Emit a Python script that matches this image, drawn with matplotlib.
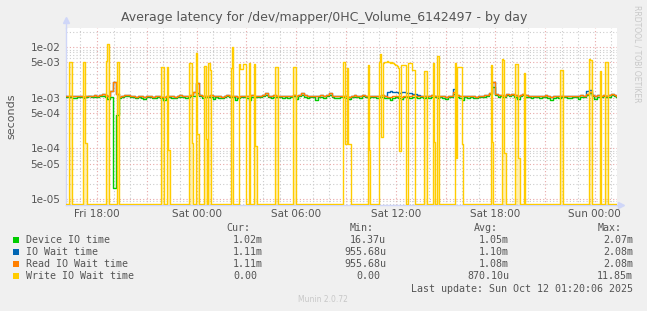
import numpy as np
import matplotlib.pyplot as plt
from matplotlib.ticker import FixedLocator, MultipleLocator, FuncFormatter

# time axis: hours counted from Fri 00:00, first sample Fri 16:08
t_start = 16 + 8 / 60
t_end = 49 + 20 / 60  # Sun 01:20

# 10-minute samples, values in ms
device_io = [
    1.02, 1.05, 1.00, 0.97, 1.04, 1.03, 0.98, 1.05, 1.07, 1.03,
    1.06, 1.04, 1.08, 1.10, 1.02, 0.95, 1.05, 0.0164, 0.45, 1.00,
    1.04, 1.08, 1.10, 1.05, 1.02, 0.98, 1.03, 1.00, 0.96, 1.02,
    1.05, 0.97, 1.01, 1.04, 0.99, 0.92, 1.02, 1.05, 1.00, 0.98,
    1.03, 1.06, 1.02, 1.00, 1.05, 1.08, 1.10, 1.25, 1.08, 1.00,
    1.04, 1.02, 1.06, 0.95, 1.04, 1.00, 0.98, 1.05, 1.07, 1.02,
    1.05, 0.90, 1.00, 1.03, 1.05, 1.01, 0.92, 1.06, 1.04, 1.02,
    1.03, 1.08, 1.15, 1.04, 1.00, 1.06, 1.03, 1.02, 0.99, 1.04,
    1.01, 1.05, 1.07, 0.93, 1.08, 1.15, 1.06, 1.01, 1.04, 1.02,
    0.92, 1.04, 1.06, 1.00, 1.07, 1.15, 1.04, 1.01, 0.99, 1.03,
    1.04, 1.01, 0.95, 1.03, 1.06, 1.04, 1.00, 1.10, 1.04, 1.01,
    1.04, 1.02, 0.98, 1.04, 1.06, 1.01, 0.97, 0.90, 1.00, 1.04,
    0.98, 0.96, 1.03, 1.04, 1.00, 1.06, 1.04, 0.99, 1.03, 1.01,
    1.04, 1.00, 1.06, 1.03, 0.98, 1.04, 1.01, 0.95, 1.03, 1.04,
    1.20, 1.05, 1.00, 0.90, 1.03, 0.99, 1.04, 1.01, 0.97, 1.03,
    1.04, 1.06, 1.10, 1.18, 1.60, 1.12, 1.06, 1.10, 1.04, 1.12,
    1.10, 1.15, 1.06, 0.96, 1.10, 1.12, 1.06, 1.04, 1.01, 1.04,
    1.03, 0.99, 1.04, 1.06, 1.00, 0.92, 1.01, 1.04, 0.99, 1.03,
    1.04, 1.01, 0.99, 1.03, 1.04, 0.94, 1.06, 1.04, 1.12, 1.22,
    1.08, 0.95, 1.06, 1.03, 1.10, 1.04, 1.06, 1.12, 1.08, 1.02,
]

io_wait = [
    1.08, 1.10, 1.07, 1.09, 1.10, 1.08, 1.06, 1.09, 1.11, 1.10,
    1.12, 1.10, 1.14, 1.20, 1.12, 1.10, 1.35, 2.08, 1.20, 1.06,
    1.10, 1.12, 1.15, 1.10, 1.08, 1.06, 1.09, 1.07, 1.05, 1.08,
    1.10, 1.04, 1.07, 1.09, 1.06, 1.05, 1.08, 1.10, 1.07, 1.06,
    1.09, 1.12, 1.08, 1.07, 1.10, 1.15, 1.30, 1.95, 1.15, 1.08,
    1.10, 1.09, 1.12, 1.08, 1.10, 1.07, 1.06, 1.10, 1.12, 1.09,
    1.11, 1.08, 1.06, 1.09, 1.10, 1.08, 1.07, 1.12, 1.10, 1.08,
    1.09, 1.15, 1.25, 1.10, 1.08, 1.12, 1.10, 1.09, 1.07, 1.10,
    1.08, 1.10, 1.12, 1.09, 1.15, 1.22, 1.12, 1.08, 1.10, 1.09,
    1.07, 1.10, 1.12, 1.08, 1.12, 1.22, 1.10, 1.08, 1.07, 1.09,
    1.10, 1.08, 1.06, 1.09, 1.12, 1.10, 1.08, 1.15, 1.10, 1.08,
    1.10, 1.09, 1.07, 1.10, 1.12, 1.08, 1.32, 1.35, 1.28, 1.30,
    1.26, 1.28, 1.30, 1.27, 1.22, 1.18, 1.20, 1.15, 1.09, 1.08,
    1.10, 1.08, 1.12, 1.09, 1.07, 1.10, 1.08, 1.06, 1.09, 1.10,
    1.50, 1.12, 1.08, 1.10, 1.09, 1.07, 1.10, 1.08, 1.06, 1.09,
    1.10, 1.12, 1.15, 1.25, 2.08, 1.20, 1.12, 1.15, 1.10, 1.18,
    1.15, 1.20, 1.12, 1.10, 1.15, 1.18, 1.12, 1.10, 1.08, 1.10,
    1.09, 1.07, 1.10, 1.12, 1.08, 1.06, 1.08, 1.10, 1.07, 1.09,
    1.10, 1.08, 1.07, 1.09, 1.10, 1.08, 1.12, 1.10, 1.35, 1.40,
    1.15, 1.10, 1.12, 1.09, 1.15, 1.10, 1.12, 1.18, 1.14, 1.11,
]

read_wait = [
    1.08, 1.10, 1.07, 1.09, 1.10, 1.08, 1.06, 1.09, 1.11, 1.10,
    1.12, 1.10, 1.14, 1.18, 1.12, 1.10, 1.35, 2.08, 1.20, 1.06,
    1.10, 1.12, 1.15, 1.10, 1.08, 1.06, 1.09, 1.07, 1.05, 1.08,
    1.10, 1.04, 1.07, 1.09, 1.06, 1.05, 1.08, 1.10, 1.07, 1.06,
    1.09, 1.12, 1.08, 1.07, 1.10, 1.15, 1.30, 1.95, 1.15, 1.08,
    1.10, 1.09, 1.12, 1.08, 1.10, 1.07, 1.06, 1.10, 1.12, 1.09,
    1.11, 1.08, 1.06, 1.09, 1.10, 1.08, 1.07, 1.12, 1.10, 1.08,
    1.09, 1.15, 1.25, 1.10, 1.08, 1.12, 1.10, 1.09, 1.07, 1.10,
    1.08, 1.10, 1.12, 1.09, 1.15, 1.22, 1.12, 1.08, 1.10, 1.09,
    1.07, 1.10, 1.12, 1.08, 1.12, 1.22, 1.10, 1.08, 1.07, 1.09,
    1.10, 1.08, 1.06, 1.09, 1.12, 1.10, 1.08, 1.15, 1.10, 1.08,
    1.10, 1.09, 1.07, 1.10, 1.12, 1.08, 1.06, 1.05, 1.08, 1.10,
    1.07, 1.06, 1.09, 1.10, 1.08, 1.12, 1.10, 1.07, 1.09, 1.08,
    1.10, 1.08, 1.12, 1.09, 1.07, 1.10, 1.08, 1.06, 1.09, 1.10,
    1.30, 1.12, 1.08, 1.10, 1.09, 1.07, 1.10, 1.08, 1.06, 1.09,
    1.10, 1.12, 1.15, 1.25, 2.08, 1.20, 1.12, 1.15, 1.10, 1.18,
    1.15, 1.20, 1.12, 1.10, 1.15, 1.18, 1.12, 1.10, 1.08, 1.10,
    1.09, 1.07, 1.10, 1.12, 1.08, 1.06, 1.08, 1.10, 1.07, 1.09,
    1.10, 1.08, 1.07, 1.09, 1.10, 1.08, 1.12, 1.10, 1.20, 1.30,
    1.15, 1.10, 1.12, 1.09, 1.15, 1.10, 1.12, 1.18, 1.14, 1.11,
]

# write wait is zero except for short bursts (start hour, 5-minute values in ms)
write_start = [16.34, 17.12, 18.53, 19.23, 21.85, 22.19, 23.52, 24.00, 24.47, 24.71,
               26.02, 26.54, 27.14, 27.49, 28.69, 29.80, 32.76, 34.33, 35.00, 37.72,
               38.22, 38.47, 39.51, 41.69, 42.39, 43.20, 43.70, 45.92, 47.65, 48.29,
               48.65]
write_vals = [
    [5.2, 5.2], [5.0, 5.0, 0.13], [5.4, 11.85], [5.0], [4.1, 4.1], [4.0, 0.095],
    [4.8, 4.8, 0.13], [7.8, 0.19], [4.3, 0.15], [4.8, 3.5],
    [3.8, 10.0], [4.6, 3.7, 3.7, 4.6, 4.6], [4.8], [4.6, 0.11], [4.0, 4.0], [4.0, 4.0],
    [5.0, 5.0, 0.12, 3.8, 0.12, 0.12], [4.5, 0.095],
    [5.0, 7.4, 0.17, 4.8, 5.2, 5.0, 5.4, 5.0, 4.8, 5.0, 4.9, 4.7, 4.5, 4.2, 3.8,
     0.09, 4.5, 4.5, 4.5, 4.5, 0.0, 4.8, 4.8, 4.8, 3.5, 3.5],
    [3.4, 3.4], [4.8, 0.135], [6.7, 6.7], [4.8, 0.066, 4.0, 4.0, 4.0, 0.12],
    [4.5, 0.135], [5.8, 5.5, 0.08], [4.6, 4.6, 0.065], [3.1], [3.6, 3.6],
    [5.8, 5.5], [3.4], [5.0, 5.0],
]

names = ['Device IO time', 'IO Wait time', 'Read IO Wait time', 'Write IO Wait time']
colors = ['#00CC00', '#0066B3', '#FF8000', '#FFCC00']
cur_vals = ['1.02m', '1.11m', '1.11m', '0.00']
min_vals = ['16.37u', '955.68u', '955.68u', '0.00']
avg_vals = ['1.05m', '1.10m', '1.08m', '870.10u']
max_vals = ['2.07m', '2.08m', '2.08m', '11.85m']

y_bottom, y_top = 7.6e-6, 2.4e-2

t10 = t_start + np.arange(len(device_io)) / 6
t5 = t_start + np.arange(400) / 12
write = np.zeros(len(t5))
short = np.zeros(len(t5), dtype=bool)
for h, vals in zip(write_start, write_vals):
    i = int(round((h - t_start) * 12))
    write[i:i + len(vals)] = vals
    if len(vals) <= 3:
        short[i:i + len(vals)] = True
write = write / 1000

W, H = 647, 311
fig = plt.figure(figsize=(W / 100, H / 100), dpi=100, facecolor='#F0F0F0')
ax = fig.add_axes([66 / W, 1 - 205 / H, 551 / W, 177 / H])
ax.set_facecolor('white')

def px(x, y):
    return x / W, 1 - y / H

# pale fill under the narrow write spikes, then the lines
shown = np.where(write > 0, write, y_bottom * 1.04)
ax.fill_between(t5, y_bottom, np.where(short, shown, y_bottom), step='post',
                color='#FFCC00', alpha=0.3, lw=0, zorder=2)
ax.plot(t10, np.array(device_io) / 1000, drawstyle='steps-post', color=colors[0], lw=1.0, zorder=3)
ax.plot(t10, np.array(io_wait) / 1000, drawstyle='steps-post', color=colors[1], lw=1.0, zorder=3)
ax.plot(t10, np.array(read_wait) / 1000, drawstyle='steps-post', color=colors[2], lw=1.0, zorder=3)
ax.plot(t5, shown, drawstyle='steps-post', color=colors[3], lw=1.0, zorder=4)

ax.set_yscale('log')
ax.set_ylim(y_bottom, y_top)
ax.set_xlim(t_start, t_end)

major_y = [1e-5, 5e-5, 1e-4, 5e-4, 1e-3, 5e-3, 1e-2]
minor_y = [s * 10.0 ** e for e in range(-6, -1) for s in (2, 3, 4, 6, 7, 8, 9)]
ax.yaxis.set_major_locator(FixedLocator(major_y))
ax.yaxis.set_minor_locator(FixedLocator(minor_y))
ax.yaxis.set_major_formatter(FuncFormatter(lambda v, p: f'{v:.0e}'))

days = ['Fri', 'Sat', 'Sun']
def xfmt(h, p):
    if round(h) % 6:
        return ''
    return f'{days[int(h // 24)]} {int(h % 24):02d}:00'
ax.xaxis.set_major_locator(MultipleLocator(3))
ax.xaxis.set_minor_locator(MultipleLocator(1))
ax.xaxis.set_major_formatter(FuncFormatter(xfmt))

ax.grid(which='major', color='#E8A8A8', ls=(0, (1, 2)), lw=0.8, zorder=1)
ax.grid(which='minor', color='#CCCCCC', ls=(0, (1, 2)), lw=0.8, zorder=1)
ax.set_axisbelow(True)
ax.tick_params(which='both', length=0, colors='#555555', labelsize=7.5)
ax.tick_params(axis='y', pad=4)
ax.tick_params(axis='x', pad=3)

for s in ['top', 'right']:
    ax.spines[s].set_visible(False)
for s in ['left', 'bottom']:
    ax.spines[s].set_color('#CFD6F8')
    ax.spines[s].set_linewidth(1.0)
ax.plot([0, 0], [1, 1.045], transform=ax.transAxes, color='#CFD6F8', lw=1, clip_on=False)
ax.plot([0], [1.045], transform=ax.transAxes, marker='^', ms=5, color='#CFD6F8', clip_on=False)
ax.plot([1, 1.008], [0, 0], transform=ax.transAxes, color='#CFD6F8', lw=1, clip_on=False)
ax.plot([1.008], [0], transform=ax.transAxes, marker='>', ms=5, color='#CFD6F8', clip_on=False)

fig.text(*px(324, 18), 'Average latency for /dev/mapper/0HC_Volume_6142497 - by day',
         ha='center', va='center', fontsize=9, color='#555555')
fig.text(*px(11, 116), 'seconds', rotation=90, ha='center', va='center', fontsize=8, color='#555555')
fig.text(*px(637, 5), 'RRDTOOL / TOBI OETIKER', rotation=270, ha='center', va='top',
         fontsize=5.5, color='#C8C8C8')

mono = dict(family='DejaVu Sans Mono', fontsize=7.2, color='#555555', va='center')
for label, x in zip(['Cur:', 'Min:', 'Avg:', 'Max:'], [250, 374, 498, 622]):
    fig.text(*px(x, 228), label, ha='right', **mono)
rows_y = [240, 252, 264, 276]
for k in range(4):
    y = rows_y[k]
    fig.patches.append(plt.Rectangle(px(13, y + 3), 6 / W, 6 / H, transform=fig.transFigure,
                                     facecolor=colors[k], edgecolor='none'))
    fig.text(*px(26, y), names[k], ha='left', **mono)
    for vals, right in zip([cur_vals, min_vals, avg_vals, max_vals], [263, 386, 509, 633]):
        s = vals[k]
        off = 0 if s[-1] in 'mu' else 6
        fig.text(*px(right - off, y), s, ha='right', **mono)
fig.text(*px(633, 289), 'Last update: Sun Oct 12 01:20:06 2025', ha='right', **mono)
fig.text(*px(323, 300), 'Munin 2.0.72', ha='center', va='center', fontsize=5.5, color='#C8C8C8')

fig.savefig('out.png', dpi=100, facecolor=fig.get_facecolor())
